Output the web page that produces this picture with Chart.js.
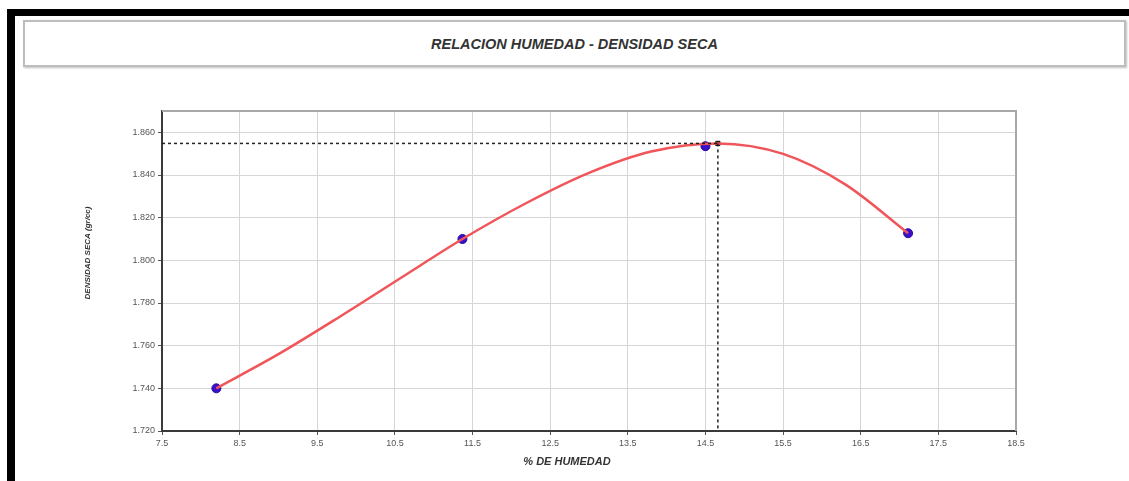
<!DOCTYPE html>
<html lang="es">
<head>
    <meta charset="UTF-8">
    <title>Relacion Humedad - Densidad Seca</title>
    <style>
        html, body { margin: 0; padding: 0; background: #fff; }
        body { width: 1129px; height: 481px; position: relative; overflow: hidden; font-family: "Liberation Sans", Arial, sans-serif; }
        .frame-top { position: absolute; left: 7px; top: 9px; width: 1122px; height: 7px; background: #000; }
        .frame-left { position: absolute; left: 7px; top: 9px; width: 8px; height: 472px; background: #000; }
        .title-box {
            position: absolute; left: 23px; top: 20px; width: 1099px; height: 43px;
            border: 2px solid #bdbdbd; background: #fff;
            box-shadow: 1px 1px 2px rgba(0,0,0,0.25);
            display: flex; align-items: center; justify-content: center;
            font-size: 14.5px; font-weight: bold; font-style: italic; color: #333;
        }
        #wrap { position: absolute; left: 0; top: 0; width: 1129px; height: 481px; }
    </style>
</head>
<body>
    <div class="frame-top"></div>
    <div class="frame-left"></div>
    <div class="title-box">RELACION HUMEDAD - DENSIDAD SECA</div>

    <div id="wrap"><canvas id="proctor"></canvas></div>

    <script src="https://cdn.jsdelivr.net/npm/chart.js"></script>
    <script>
        // ensayo (puntos medidos)
        const humedad = [8.20, 11.37, 14.50, 17.11];
        const densidad = [1.740, 1.810, 1.8535, 1.8127];

        // curva ajustada
        const curvaHumedad = [8.20, 9.00, 9.80, 10.60, 11.37, 12.20, 13.00, 13.80, 14.66, 15.50, 16.30, 17.11];
        const curvaDensidad = [1.7400, 1.7560, 1.7738, 1.7923, 1.8100, 1.8270, 1.8410, 1.8510, 1.8548, 1.8499, 1.8356, 1.8127];

        // optimo
        const humedadOptima = 14.66;
        const densidadMaxima = 1.8548;

        const xTicks = [7.5, 8.5, 9.5, 10.5, 11.5, 12.5, 13.5, 14.5, 15.5, 16.5, 17.5, 18.5];
        const yTicks = [1.72, 1.74, 1.76, 1.78, 1.80, 1.82, 1.84, 1.86];

        const xMin = 7.5, xMax = 18.5, yMin = 1.72, yMax = 1.87;

        const xTitle = '% DE HUMEDAD';
        const yTitle = 'DENSIDAD SECA (gr/cc)';

        const toPts = (xs, ys) => xs.map((x, i) => ({ x: x, y: ys[i] }));

        // marco gris arriba y a la derecha, y titulos de ejes
        const plotFrame = {
            id: 'plotFrame',
            afterDraw(chart) {
                const { ctx, chartArea: a } = chart;
                ctx.save();
                ctx.strokeStyle = '#a8a8a8';
                ctx.lineWidth = 2;
                ctx.beginPath();
                ctx.moveTo(a.left, a.top);
                ctx.lineTo(a.right, a.top);
                ctx.lineTo(a.right, a.bottom);
                ctx.stroke();

                ctx.fillStyle = '#333';
                ctx.textAlign = 'center';
                ctx.textBaseline = 'middle';
                ctx.font = 'italic bold 11px "Liberation Sans", Arial, sans-serif';
                ctx.fillText(xTitle, 567, 462);

                ctx.translate(88, 253);
                ctx.rotate(-Math.PI / 2);
                ctx.font = 'italic bold 8px "Liberation Sans", Arial, sans-serif';
                ctx.fillText(yTitle, 0, 0);
                ctx.restore();
            }
        };

        const tickFont = { family: '"Liberation Sans", Arial, sans-serif', size: 9 };

        new Chart(document.getElementById('proctor'), {
            type: 'scatter',
            data: {
                datasets: [
                    {
                        label: 'hline',
                        type: 'line',
                        data: toPts([xMin, humedadOptima], [densidadMaxima, densidadMaxima]),
                        borderColor: '#222',
                        borderWidth: 1.5,
                        borderDash: [3, 3],
                        pointRadius: 0,
                        fill: false
                    },
                    {
                        label: 'vline',
                        type: 'line',
                        data: toPts([humedadOptima, humedadOptima], [densidadMaxima, yMin]),
                        borderColor: '#222',
                        borderWidth: 1.5,
                        borderDash: [3, 3],
                        pointRadius: 0,
                        fill: false
                    },
                    {
                        label: 'curva',
                        type: 'line',
                        data: toPts(curvaHumedad, curvaDensidad),
                        borderColor: '#f0555a',
                        borderWidth: 2.5,
                        pointRadius: 0,
                        cubicInterpolationMode: 'monotone',
                        fill: false
                    },
                    {
                        label: 'ensayo',
                        data: toPts(humedad, densidad),
                        backgroundColor: '#3a10c8',
                        borderColor: '#2a0aa0',
                        borderWidth: 1,
                        pointRadius: 4.5
                    },
                    {
                        label: 'optimo',
                        data: toPts([humedadOptima], [densidadMaxima]),
                        backgroundColor: '#111',
                        borderColor: '#111',
                        pointStyle: 'rect',
                        pointRadius: 3
                    }
                ]
            },
            options: {
                responsive: true,
                maintainAspectRatio: false,
                animation: false,
                layout: { padding: { left: 74, right: 113, top: 111, bottom: 6 } },
                plugins: {
                    legend: { display: false },
                    tooltip: { enabled: false }
                },
                scales: {
                    x: {
                        type: 'linear',
                        min: xMin,
                        max: xMax,
                        afterBuildTicks: (s) => { s.ticks = xTicks.map(v => ({ value: v })); },
                        afterFit: (s) => { s.height = 44; },
                        ticks: {
                            color: '#555',
                            font: tickFont,
                            padding: 3,
                            maxRotation: 0,
                            callback: (v) => Number(v).toFixed(1)
                        },
                        grid: { color: '#d6d6d6', lineWidth: 1, tickLength: 4, tickColor: '#555' },
                        border: { color: '#3a3a3a', width: 2 }
                    },
                    y: {
                        type: 'linear',
                        min: yMin,
                        max: yMax,
                        afterBuildTicks: (s) => { s.ticks = yTicks.map(v => ({ value: v })); },
                        afterFit: (s) => { s.width = 88; },
                        ticks: {
                            color: '#555',
                            font: tickFont,
                            padding: 3,
                            callback: (v) => Number(v).toFixed(3)
                        },
                        grid: { color: '#d6d6d6', lineWidth: 1, tickLength: 4, tickColor: '#555' },
                        border: { color: '#3a3a3a', width: 2 }
                    }
                }
            },
            plugins: [plotFrame]
        });
    </script>
</body>
</html>
